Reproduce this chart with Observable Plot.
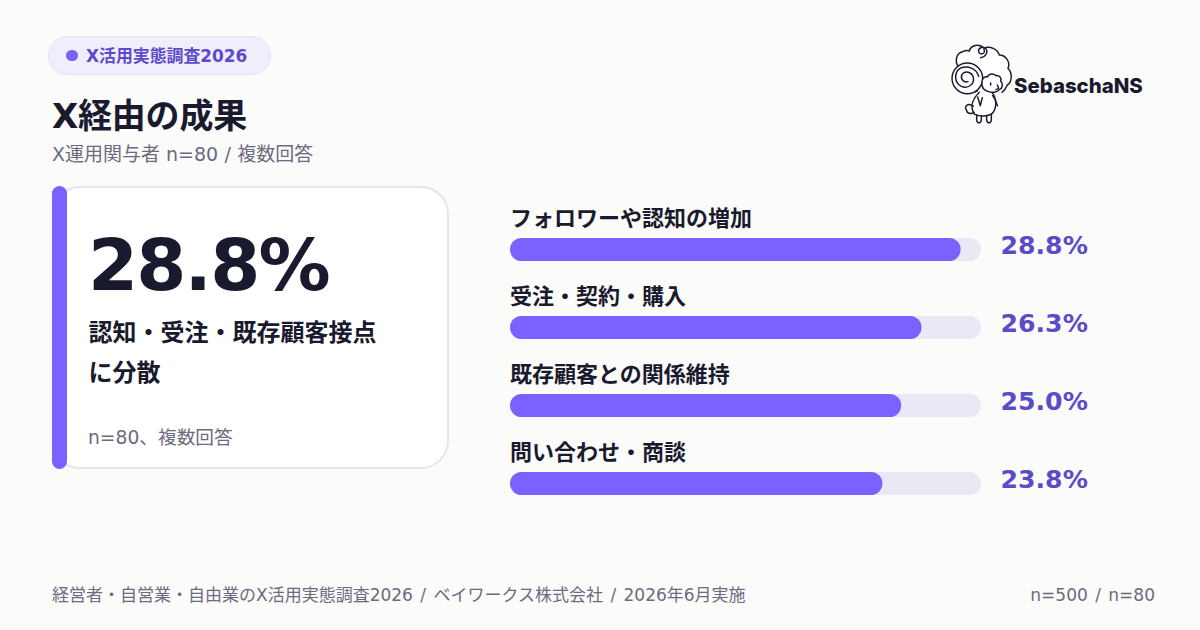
<!DOCTYPE html>
<html lang="ja">
<head>
<meta charset="utf-8">
<script src="https://cdn.jsdelivr.net/npm/d3@7"></script>
<script src="https://cdn.jsdelivr.net/npm/@observablehq/plot@0.6"></script>
<style>
  html,body{margin:0;padding:0;width:1200px;height:630px;overflow:hidden;background:#fbfbf9;}
  body{position:relative;font-family:"DejaVu Sans","Noto Sans CJK JP",sans-serif;color:#1a1a2e;}
  .abs{position:absolute;white-space:nowrap;line-height:1;box-sizing:border-box;}
  #chart{position:absolute;left:0;top:0;}
  #chart svg{background:transparent;display:block;}
  .sl{margin:0 2px;}
  #sub .sl{margin:0 .3px;}
</style>
</head>
<body>
<div class="abs" style="left:48px;top:36px;width:223px;height:39px;border:1px solid #e6e2f6;border-radius:20px;background:#f0edfd;"></div>
<div class="abs" style="left:66px;top:49.5px;width:11.5px;height:11.5px;border-radius:50%;background:#7b61ff;"></div>
<div class="abs" id="pill" style="left:86px;top:48px;font-size:16.9px;font-weight:700;color:#5b4bc9;"></div>
<div class="abs" id="title" style="left:52px;top:99px;font-size:34px;font-weight:700;letter-spacing:-0.2px;"></div>
<div class="abs" id="sub" style="left:52px;top:145px;font-size:19px;color:#6b6b80;"></div>

<div class="abs" style="left:52px;top:186px;width:397px;height:283px;border:2px solid #e6e4f2;border-radius:28px;background:#fff;"></div>
<div class="abs" style="left:52px;top:186px;width:15px;height:283px;border-radius:7.5px;background:#7b61ff;"></div>
<div class="abs" id="big" style="left:88px;top:229px;font-size:72px;font-weight:700;letter-spacing:-1.8px;"></div>
<div class="abs" id="lead1" style="left:88.5px;top:321px;font-size:24px;font-weight:700;"></div>
<div class="abs" id="lead2" style="left:88.5px;top:361px;font-size:24px;font-weight:700;"></div>
<div class="abs" id="note" style="left:88px;top:429px;font-size:18.7px;color:#6b6b80;"></div>

<svg class="abs" style="left:940px;top:35px" width="80" height="100" viewBox="0 0 240 300" fill="none" stroke="#1a1a2e" stroke-width="4.4" stroke-linecap="round" stroke-linejoin="round">
  <path fill="#fff" d="M112 168C96 172 80 178 72 172M55 95C44 80 48 54 68 50C76 46 82 46 88 48C92 30 118 24 132 40C150 32 172 42 178 60C196 60 212 80 204 100C218 114 216 142 202 150C198 160 194 166 186 172"/>
  <circle cx="82" cy="130" r="46" fill="#fff"/>
  <path d="M84 140C70 144 60 130 66 118C74 106 96 110 100 128C104 148 84 162 64 154C42 144 42 112 60 100C82 90 110 100 116 124"/>
  <path d="M132 44C138 56 120 62 116 50C114 38 128 34 136 40C146 50 138 66 122 68"/>
  <path fill="#fff" d="M118 172C102 188 86 214 104 238C122 246 144 244 156 236C172 220 170 190 156 172"/>
  <path d="M100 214C84 200 70 216 80 226C80 236 94 238 102 232"/>
  <path d="M110 240L110 256C112 266 122 266 124 256L124 244M140 244L140 256C142 266 152 266 154 256L154 238"/>
  <path d="M113 186L121 212L127 188"/>
  <path d="M158 182C166 192 170 204 172 212"/>
  <path fill="#fff" d="M126 142C124 130 136 124 142 126C148 114 162 116 168 122C178 120 186 130 182 138C190 146 188 160 178 164C172 172 156 174 146 170C132 166 124 156 126 142Z"/>
  <path d="M152 144L152 150M172 150L176 160L168 164"/>
</svg>
<div class="abs" id="brand" style="left:1014px;top:76px;font-family:Inter,sans-serif;font-size:20.4px;font-weight:800;"></div>

<div id="chart"></div>

<div class="abs" id="foot" style="left:52px;top:587px;font-size:17px;color:#6b6b80;"></div>
<div class="abs" id="footR" style="right:45px;top:587px;font-size:17px;color:#6b6b80;"></div>

<script>
const labels = ["フォロワーや認知の増加", "受注・契約・購入", "既存顧客との関係維持", "問い合わせ・商談"];
const values = [28.8, 26.3, 25.0, 23.8];
const trackMax = 30.1;
const colors = {bar:"#7b61ff", track:"#ebe8f6", ink:"#1a1a2e", value:"#5b4bc9"};
const fontStack = '"DejaVu Sans","Noto Sans CJK JP",sans-serif';

const texts = {
  pill: "X活用実態調査2026",
  title: "X経由の成果",
  sub: "X運用関与者 n=80 / 複数回答",
  lead1: "認知・受注・既存顧客接点",
  lead2: "に分散",
  note: "n=80、複数回答",
  brand: "SebaschaNS",
  foot: "経営者・自営業・自由業のX活用実態調査2026 / ベイワークス株式会社 / 2026年6月実施",
  footR: "n=500 / n=80"
};
for (const [k, v] of Object.entries(texts)) {
  document.getElementById(k).innerHTML = v.split(" / ").join(' <span class="sl">/</span> ');
}
document.getElementById("big").textContent = values[0].toFixed(1) + "%";

const rows = labels.map((label, i) => ({label, value: values[i], text: values[i].toFixed(1) + "%"}));

const chart = Plot.plot({
  width: 1200,
  height: 630,
  margin: 0,
  style: {background: "transparent"},
  x: {domain: [0, trackMax], range: [510, 981], axis: null},
  y: {domain: labels, range: [238, 495], paddingInner: 55 / 78, paddingOuter: 0, round: false, axis: null},
  marks: [
    Plot.barX(rows, {x1: () => 0, x2: () => trackMax, y: "label", fill: colors.track, rx: 11.5}),
    Plot.barX(rows, {x1: () => 0, x2: "value", y: "label", fill: colors.bar, rx: 11.5}),
    Plot.text(rows, {x: () => 0, y: "label", text: "label", textAnchor: "start", dx: -0.5, dy: -31.5,
      fontFamily: fontStack, fontSize: 22, fontWeight: 700, fill: colors.ink}),
    Plot.text(rows, {x: () => trackMax, y: "label", text: "text", textAnchor: "start", dx: 19, dy: -4,
      fontFamily: fontStack, fontSize: 25.2, fontWeight: 700, fill: colors.value})
  ]
});
document.getElementById("chart").append(chart);
</script>
</body>
</html>
